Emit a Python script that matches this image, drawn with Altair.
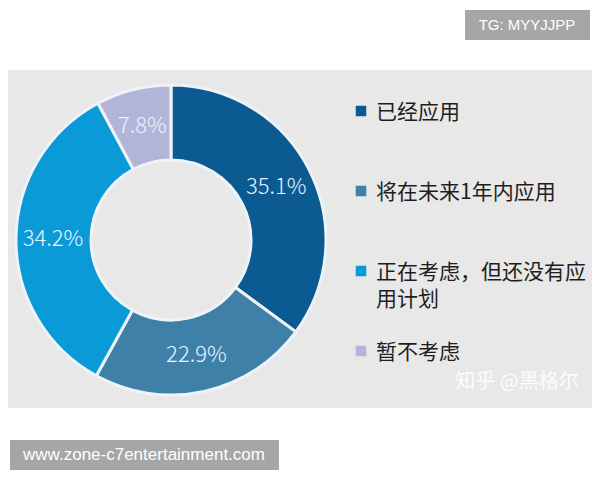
import altair as alt
import pandas as pd

# ---- data ----
categories = ["已经应用", "将在未来1年内应用", "正在考虑，但还没有应\n用计划", "暂不考虑"]
values = [35.1, 22.9, 34.2, 7.8]
labels = ["35.1%", "22.9%", "34.2%", "7.8%"]
order = [1, 2, 3, 4]
colors = ["#0b5a92", "#3f80a8", "#0b9ad8", "#b2b5d8"]

tag_text = ["TG: MYYJJPP"]
site_text = ["www.zone-c7entertainment.com"]
mark_text = ["知乎 @黑格尔"]

df = pd.DataFrame({"cat": categories, "value": values, "label": labels, "order": order})

W, H = 584, 464
CX, CY = 163, 232

color_enc = alt.Color("cat:N", scale=alt.Scale(domain=categories, range=colors), legend=None)

one = pd.DataFrame({"k": [0]})

panel = alt.Chart(one).mark_rect(color="#e8e8e8").encode(
    x=alt.value(0), x2=alt.value(W), y=alt.value(62), y2=alt.value(400)
)

arcs = alt.Chart(df).mark_arc(innerRadius=80, outerRadius=155, stroke="#eef3f7", strokeWidth=3).encode(
    theta=alt.Theta("value:Q", stack=True),
    order=alt.Order("order:Q"),
    color=color_enc,
    x=alt.value(CX), y=alt.value(CY),
)

arc_labels = alt.Chart(df).mark_text(
    radius=118, fontSize=22, color="#eaf5ff", font="Noto Sans CJK SC", fontWeight=300
).encode(
    theta=alt.Theta("value:Q", stack=True),
    order=alt.Order("order:Q"),
    text="label:N",
    x=alt.value(CX), y=alt.value(CY),
)

ypos = alt.Y("cat:N", scale=alt.Scale(type="point", domain=categories, range=[103, 343], padding=0), axis=None)

leg_sq = alt.Chart(df).mark_square(size=110, opacity=1).encode(
    x=alt.value(353), y=ypos, color=color_enc
)
leg_txt = alt.Chart(df).mark_text(
    align="left", baseline="alphabetic", dy=8, fontSize=21, color="#1e1e1e",
    font="Noto Sans CJK SC", lineBreak="\n", lineHeight=27
).encode(x=alt.value(368), y=ypos, text="cat:N")

wm = alt.Chart(pd.DataFrame({"t": mark_text})).mark_text(
    fontSize=20, color="#ffffff", opacity=0.9, font="Noto Sans CJK SC", baseline="middle"
).encode(x=alt.value(509), y=alt.value(374), text="t:N")

tag_box = alt.Chart(one).mark_rect(color="#a6a6a6").encode(
    x=alt.value(457), x2=alt.value(582), y=alt.value(2), y2=alt.value(32)
)
tag = alt.Chart(pd.DataFrame({"t": tag_text})).mark_text(
    fontSize=15, color="#ffffff", font="Liberation Sans", baseline="middle"
).encode(x=alt.value(519), y=alt.value(17), text="t:N")

site_box = alt.Chart(one).mark_rect(color="#a6a6a6").encode(
    x=alt.value(2), x2=alt.value(271), y=alt.value(432), y2=alt.value(462)
)
site = alt.Chart(pd.DataFrame({"t": site_text})).mark_text(
    fontSize=17, color="#ffffff", font="Liberation Sans", baseline="middle"
).encode(x=alt.value(136), y=alt.value(447), text="t:N")

chart = alt.layer(
    panel, arcs, arc_labels, leg_sq, leg_txt, wm, tag_box, tag, site_box, site
).properties(
    width=W, height=H, autosize=alt.AutoSizeParams(type="none"), padding=0, background="#ffffff"
).configure_view(stroke=None)

chart.save("out.html", embed_options={"renderer": "svg", "actions": False})
